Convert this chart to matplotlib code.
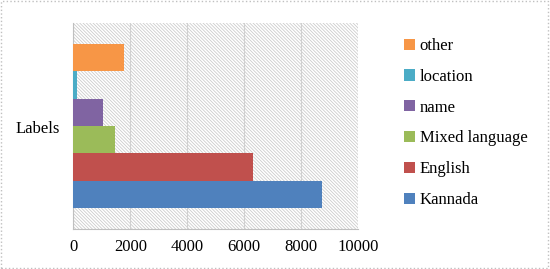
import matplotlib
matplotlib.use("Agg")
import matplotlib.pyplot as plt
from matplotlib.patches import Rectangle, Patch

plt.rcParams['font.family'] = ['Liberation Serif', 'DejaVu Serif']
plt.rcParams['hatch.color'] = '#cccccc'
plt.rcParams['hatch.linewidth'] = 0.6

category = "Labels"
series = ["Kannada", "English", "Mixed language", "name", "location", "other"]
values = [8716, 6295, 1463, 1031, 130, 1779]
colors = ["#4f81bd", "#c0504d", "#9bbb59", "#8064a2", "#4bacc6", "#f79646"]
xticks = [0, 2000, 4000, 6000, 8000, 10000]

FS = 12
fig = plt.figure(figsize=(5.5, 2.69), dpi=100)
ax = fig.add_axes([73.3/550, 1 - 229/269, (358.3-73.3)/550, (229-23)/269])

n = len(series)
bw = 0.8 / n
for i, (s, v, c) in enumerate(zip(series, values, colors)):
    y = -0.4 + bw * (i + 0.5)
    ax.barh(y, v, height=bw, color=c, label=s, zorder=3)

ax.set_ylim(-0.5, 0.5)
ax.set_xlim(0, 10000)
ax.set_xticks(xticks)
ax.set_xticklabels([str(t) for t in xticks], fontsize=FS)
ax.set_yticks([-0.005])
ax.set_yticklabels([category], fontsize=FS)
ax.tick_params(axis='x', length=0, pad=7)
ax.tick_params(axis='y', length=0, pad=9.5)

# hatched background
ax.add_patch(Rectangle((0, 0), 1, 1, transform=ax.transAxes, facecolor='white',
                       edgecolor='#cccccc', hatch='\\' * 10, linewidth=0, zorder=0))
ax.grid(axis='x', color='#d0d0d0', linewidth=0.8, zorder=1)
ax.set_axisbelow(True)
for sp in ['top', 'right']:
    ax.spines[sp].set_visible(False)
ax.spines['left'].set_color('#bfbfbf')
ax.spines['bottom'].set_color('#bfbfbf')

handles = [Patch(facecolor=c, edgecolor='none') for c in colors][::-1]
labels = series[::-1]
leg = fig.legend(handles, labels, loc='upper left', bbox_to_anchor=(404/550, 1 - 38/269),
                 frameon=False, fontsize=FS, handlelength=0.65, handleheight=0.65,
                 handletextpad=0.3, labelspacing=0.89, borderaxespad=0, borderpad=0)

fig.patches.append(Rectangle((0.002, 0.003), 0.995, 0.993, transform=fig.transFigure,
                             fill=False, edgecolor='#c0c0c0', linestyle=':', linewidth=1))

fig.savefig("out.png", dpi=100)
